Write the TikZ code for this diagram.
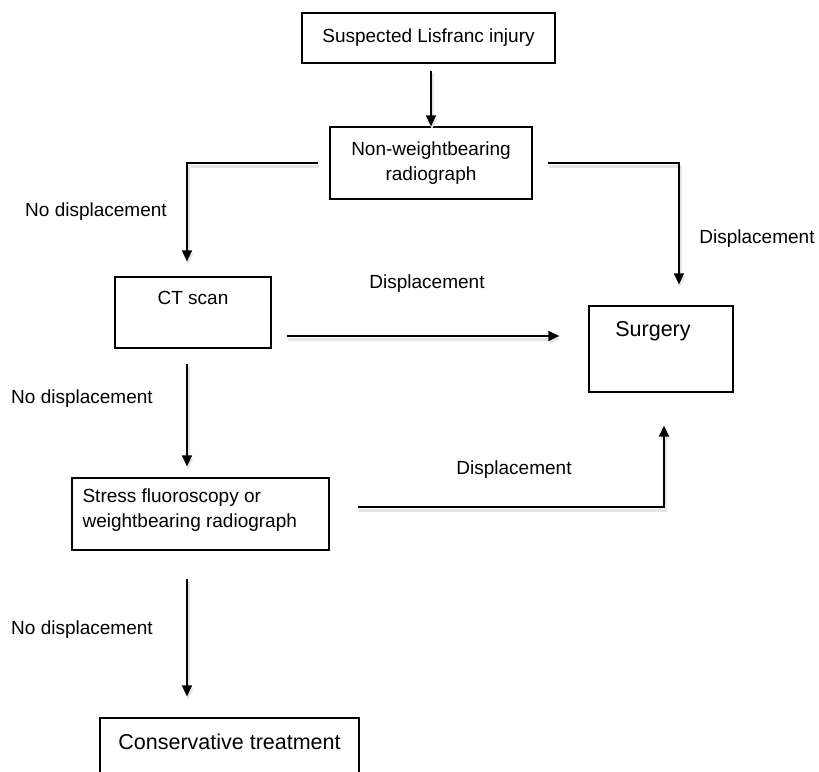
\documentclass[tikz,border=0pt]{standalone}
\usepackage{fontspec}
\setmainfont{Liberation Sans}
\usetikzlibrary{arrows.meta,calc}
\begin{document}
\begin{tikzpicture}[x=1pt,y=1pt,
 txt/.style={font=\fontsize{19}{25}\selectfont},
 bigtxt/.style={font=\fontsize{21.5}{26}\selectfont},
 box/.style={draw, line width=1.3pt, inner sep=0pt, txt},
 lbl/.style={inner sep=0pt, txt},
 conn/.style={line width=1.4pt, preaction={draw=black!10, line width=3pt, transform canvas={shift={(1pt,-3pt)}}}},
 arr/.style={conn, -{Triangle[length=11pt,width=10pt]}},
]
\useasboundingbox (0,0) rectangle (819,-771);
\fill[white] (0,0) rectangle (819,-771);

% boxes
\node[box, minimum width=253pt, minimum height=50pt] (top) at (428.5,-38) {Suspected Lisfranc injury};
\node[box, minimum width=202pt, minimum height=72pt, align=center] (nwb) at (431,-163) {Non-weightbearing\\radiograph};
\node[box, minimum width=156pt, minimum height=71pt,
      label={[lbl, anchor=center, yshift=-22pt]north:CT scan}] (ct) at (193,-312.5) {};
\node[box, minimum width=144pt, minimum height=86pt,
      label={[inner sep=0pt, bigtxt, anchor=center, yshift=-26pt, xshift=-8pt]north:Surgery}] (surg) at (661,-349) {};
\node[box, minimum width=257pt, minimum height=72pt,
      label={[lbl, align=left, anchor=west, xshift=11pt, yshift=4pt]west:Stress fluoroscopy or\\weightbearing radiograph}] (st) at (200.5,-514) {};
\node[box, minimum width=259pt, minimum height=80pt,
      label={[inner sep=0pt, bigtxt, anchor=center, yshift=-24pt]north:Conservative treatment}] (cons) at (229.5,-758) {};

% corner coordinates
\coordinate (cl) at (187,-163);
\coordinate (cr) at (679,-163);
\coordinate (cs) at (664,-507);

% connectors
\draw[arr, shorten <=7pt] (top.south -| nwb.north) -- (nwb.north);
\draw[arr, shorten <=11pt, shorten >=15pt] (nwb.west) -- (cl) -- (cl |- ct.north);
\draw[arr, shorten <=15pt, shorten >=21pt] (nwb.east) -- (cr) -- (cr |- surg.north);
\draw[arr, shorten <=15pt, shorten >=29pt] ([yshift=-23.5pt]ct.east) -- ([yshift=-23.5pt]ct.east -| surg.west);
\draw[arr, shorten <=15pt, shorten >=11pt] (ct.south -| cl) -- (st.north -| cl);
\draw[arr, shorten <=28pt, shorten >=33pt] (st.east |- cs) -- (cs) -- (cs |- surg.south);
\draw[arr, shorten <=28pt, shorten >=21pt] (st.south -| cl) -- (cons.north -| cl);

% labels
\node[lbl] (l1) at (96,-212) {No displacement};
\node[lbl] (l2) at (757,-239) {Displacement};
\node[lbl] (l3) at (427,-284) {Displacement};
\node[lbl] (l4) at (82,-399) {No displacement};
\node[lbl] (l5) at (514,-470) {Displacement};
\node[lbl] (l6) at (82,-630) {No displacement};
\end{tikzpicture}
\end{document}
